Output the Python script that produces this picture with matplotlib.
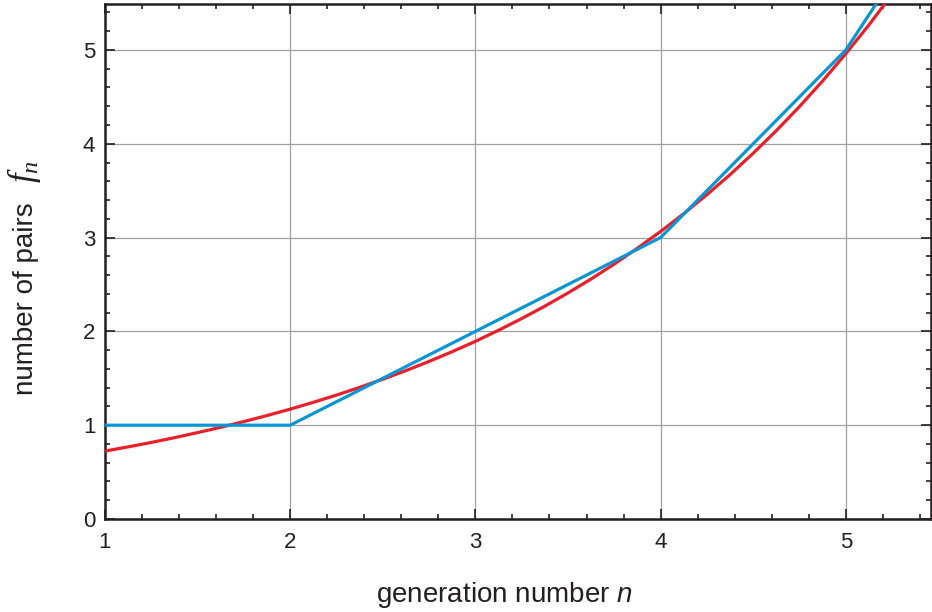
import matplotlib
matplotlib.use("Agg")
import matplotlib.pyplot as plt
from matplotlib.ticker import MultipleLocator

# Fibonacci numbers (blue polyline)
fib_n = [1, 2, 3, 4, 5, 6]
fib_f = [1, 1, 2, 3, 5, 8]

# Smooth red curve
red_n = [1.0, 1.125, 1.25, 1.375, 1.5, 1.625, 1.75, 1.875, 2.0, 2.125, 2.25,
         2.375, 2.5, 2.625, 2.75, 2.875, 3.0, 3.125, 3.25, 3.375, 3.5, 3.625,
         3.75, 3.875, 4.0, 4.125, 4.25, 4.375, 4.5, 4.625, 4.75, 4.875, 5.0,
         5.125, 5.25, 5.375, 5.5]
red_f = [0.724, 0.769, 0.816, 0.867, 0.921, 0.978, 1.039, 1.103, 1.171, 1.244,
         1.321, 1.403, 1.490, 1.582, 1.680, 1.784, 1.894, 2.012, 2.137, 2.269,
         2.410, 2.559, 2.718, 2.887, 3.065, 3.255, 3.457, 3.671, 3.899, 4.140,
         4.397, 4.670, 4.960, 5.267, 5.594, 5.941, 6.309]

x_ticks = [1, 2, 3, 4, 5]
y_ticks = [0, 1, 2, 3, 4, 5]

plt.rcParams['font.family'] = ['Liberation Sans', 'DejaVu Sans']
plt.rcParams['mathtext.fontset'] = 'custom'
plt.rcParams['mathtext.cal'] = 'Liberation Serif:italic'
plt.rcParams['mathtext.it'] = 'Liberation Sans:italic'
plt.rcParams['mathtext.rm'] = 'Liberation Sans'

fig = plt.figure(figsize=(9.32, 6.12), dpi=100)
ax = fig.add_axes([105/932, (612-519)/612, (931-105)/932, (519-4)/612])

ax.plot(red_n, red_f, color='#e8202a', lw=2.3, zorder=3, solid_capstyle='butt')
ax.plot(fib_n, fib_f, color='#0a96d4', lw=2.3, zorder=4, solid_capstyle='butt')

ax.set_xlim(1, 5.46)
ax.set_ylim(0, 5.49)
ax.set_xticks(x_ticks)
ax.set_yticks(y_ticks)
ax.xaxis.set_minor_locator(MultipleLocator(0.2))
ax.yaxis.set_minor_locator(MultipleLocator(0.2))
ax.grid(True, which='major', color='#a0a0a0', lw=0.9, zorder=0)
ax.set_axisbelow(True)

for s in ax.spines.values():
    s.set_linewidth(1.8)
    s.set_color('#231f20')

ax.tick_params(which='both', direction='in', top=True, right=True,
               width=1.2, color='#231f20', labelsize=16, labelcolor='#231f20')
ax.tick_params(which='major', length=7)
ax.tick_params(which='minor', length=3.5)
ax.tick_params(axis='x', pad=9)
ax.tick_params(axis='y', pad=7)

ax.set_xlabel(r'generation number $n$', fontsize=20, color='#231f20')
ax.xaxis.set_label_coords(0.484, -0.118)
ax.set_ylabel('number of pairs', fontsize=20, color='#231f20')
ax.yaxis.set_label_coords(-0.080, 0.427)
ax.text(-0.0872, 0.652, r'$\mathcal{f}_\mathcal{n}$', transform=ax.transAxes,
        rotation=90, rotation_mode='anchor', ha='left', va='baseline',
        fontsize=25, color='#231f20')

fig.savefig('out.png', dpi=100)
